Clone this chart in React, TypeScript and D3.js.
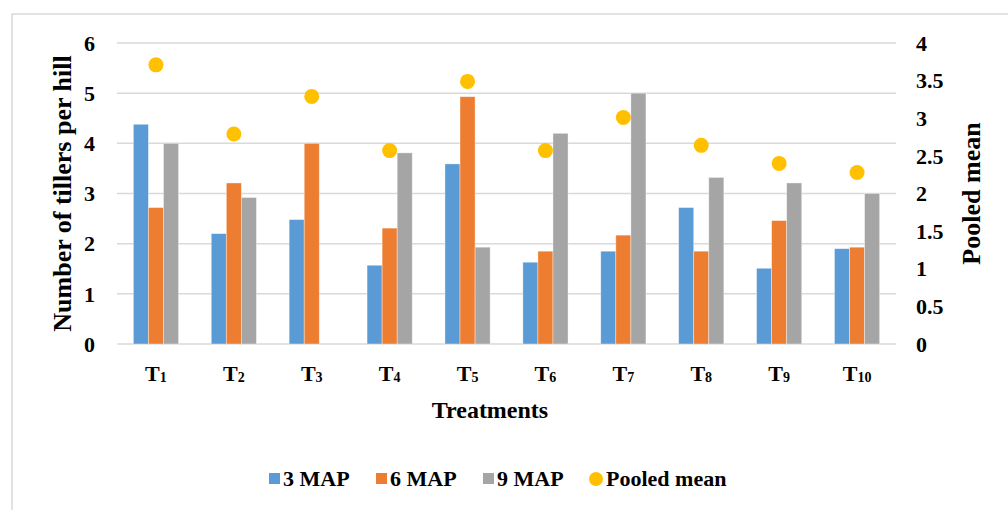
import * as d3 from "d3";
import React from "react";

const treatments = ["1", "2", "3", "4", "5", "6", "7", "8", "9", "10"];
const seriesNames = ["3 MAP", "6 MAP", "9 MAP"];
const map3 = [4.38, 2.2, 2.48, 1.57, 3.59, 1.63, 1.85, 2.72, 1.51, 1.9];
const map6 = [2.72, 3.21, 4.0, 2.31, 4.93, 1.85, 2.17, 1.85, 2.46, 1.93];
const map9 = [4.0, 2.92, 0, 3.81, 1.93, 4.2, 5.0, 3.32, 3.21, 3.0];
const pooledMean = [3.71, 2.79, 3.29, 2.57, 3.49, 2.57, 3.01, 2.64, 2.4, 2.28];
const leftTicks = [0, 1, 2, 3, 4, 5, 6];
const rightTicks = [0, 0.5, 1, 1.5, 2, 2.5, 3, 3.5, 4];

const colors = ["#5b9bd5", "#ed7d31", "#a5a5a5"];
const dotColor = "#ffc000";
const gridColor = "#d9d9d9";
const font = '"Liberation Serif", Tinos, "DejaVu Serif", serif';

export default function App() {
    const width = 1008;
    const height = 510;
    const margin = { top: 43, right: 112, bottom: 166, left: 117 };
    const series = [map3, map6, map9];

    const x = d3
        .scaleBand()
        .domain(treatments)
        .range([margin.left, width - margin.right])
        .paddingInner(0.42)
        .paddingOuter(0.21);

    const xSub = d3
        .scaleBand()
        .domain(seriesNames)
        .range([0, x.bandwidth()]);

    const y = d3
        .scaleLinear()
        .domain([0, 6])
        .range([height - margin.bottom, margin.top]);

    const y2 = d3
        .scaleLinear()
        .domain([0, 4])
        .range([height - margin.bottom, margin.top]);

    const plotMid = (y.range()[0] + y.range()[1]) / 2;

    const legend = [
        { label: "3 MAP", color: colors[0], x: 269, shape: "rect" },
        { label: "6 MAP", color: colors[1], x: 376, shape: "rect" },
        { label: "9 MAP", color: colors[2], x: 483, shape: "rect" },
        { label: "Pooled mean", color: dotColor, x: 589, shape: "circle" },
    ];

    const textStyle = { fontFamily: font, fontWeight: "bold" as const };

    return (
        <svg
            width={width}
            height={height}
            style={{ position: "absolute", left: 0, top: 0, background: "#fff", fontFamily: font, fontWeight: "bold" }}
        >
            <rect x={12} y={14} width={1010} height={510} fill="none" stroke={gridColor} strokeWidth={1.5} />

            {/* gridlines */}
            {leftTicks.map((t) => (
                <line
                    key={"g" + t}
                    x1={margin.left}
                    x2={width - margin.right}
                    y1={y(t)}
                    y2={y(t)}
                    stroke={gridColor}
                    strokeWidth={1.5}
                />
            ))}

            {/* bars */}
            {treatments.map((t, i) => (
                <g key={"b" + t} transform={`translate(${x(t)},0)`}>
                    {series.map((s, j) => (
                        <rect
                            key={j}
                            x={xSub(seriesNames[j])}
                            y={y(s[i])}
                            width={xSub.bandwidth()}
                            height={y(0) - y(s[i])}
                            fill={colors[j]}
                            stroke="#ffffff"
                            strokeOpacity={0.5}
                            strokeWidth={0.75}
                        />
                    ))}
                </g>
            ))}

            {/* pooled mean points */}
            {treatments.map((t, i) => (
                <circle
                    key={"p" + t}
                    cx={x(t) + x.bandwidth() / 2}
                    cy={y2(pooledMean[i])}
                    r={7.5}
                    fill={dotColor}
                />
            ))}

            {/* left axis labels */}
            {leftTicks.map((t) => (
                <text key={"l" + t} style={textStyle} x={95} y={y(t)} dy="0.35em" textAnchor="end" fontSize={22}>
                    {t}
                </text>
            ))}

            {/* right axis labels */}
            {rightTicks.map((t) => (
                <text key={"r" + t} style={textStyle} x={916} y={y2(t)} dy="0.35em" textAnchor="start" fontSize={22}>
                    {t}
                </text>
            ))}

            {/* x labels */}
            {treatments.map((t) => (
                <text key={"x" + t} style={textStyle} x={x(t) + x.bandwidth() / 2} y={381} textAnchor="middle" fontSize={22}>
                    T
                    <tspan fontSize={14} dy={1}>
                        {t}
                    </tspan>
                </text>
            ))}

            {/* axis titles */}
            <text
                style={textStyle}
                transform={`translate(71,${plotMid}) rotate(-90)`}
                textAnchor="middle"
                fontSize={26}
            >
                Number of tillers per hill
            </text>
            <text
                style={textStyle}
                transform={`translate(980,${plotMid}) rotate(-90)`}
                textAnchor="middle"
                fontSize={26}
            >
                Pooled mean
            </text>
            <text style={textStyle} x={490} y={418} textAnchor="middle" fontSize={24}>
                Treatments
            </text>

            {/* legend */}
            {legend.map((d) => (
                <g key={d.label}>
                    {d.shape === "rect" ? (
                        <rect x={d.x} y={473} width={11} height={11} fill={d.color} />
                    ) : (
                        <circle cx={d.x + 7} cy={479} r={7} fill={d.color} />
                    )}
                    <text style={textStyle} x={d.x + (d.shape === "rect" ? 14 : 17)} y={486} fontSize={22}>
                        {d.label}
                    </text>
                </g>
            ))}
        </svg>
    );
}
